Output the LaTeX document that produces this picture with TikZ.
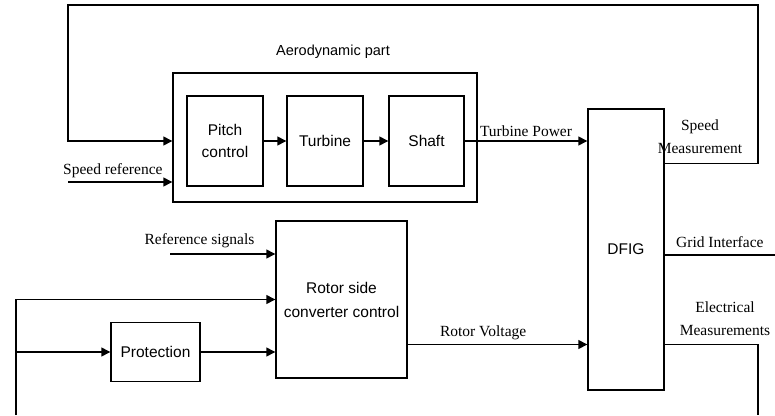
\documentclass[tikz,border=0pt]{standalone}
\usepackage{fontspec}
\setmainfont{Liberation Serif}
\setsansfont{Liberation Sans}
\usetikzlibrary{arrows.meta}

\begin{document}
\begin{tikzpicture}[x=1pt,y=-1pt,line width=1.4pt,
    >={Triangle[length=9pt,width=9pt]},
    blk/.style={draw,align=center,inner sep=0pt,font=\sffamily\fontsize{15.5}{22}\selectfont},
    lbl/.style={align=center,inner sep=1pt,font=\fontsize{15.5}{23}\selectfont}]
  \useasboundingbox (0,0) rectangle (775,415);
  % aerodynamic part
  \node[draw,minimum width=304pt,minimum height=129pt] (aero) at (325,137.5) {};
  \node[font=\sffamily\fontsize{14.5}{17}\selectfont] (aerolbl) at (333,52) {Aerodynamic part};
  \node[blk,minimum width=76pt,minimum height=90pt] (pitch) at (225,141) {Pitch\\control};
  \node[blk,minimum width=76pt,minimum height=90pt] (turb) at (325,141) {Turbine};
  \node[blk,minimum width=75pt,minimum height=90pt] (shaft) at (426.5,141) {Shaft};
  % machine and converter side
  \node[blk,minimum width=76pt,minimum height=281pt] (dfig) at (626,249.5) {DFIG};
  \node[blk,minimum width=131pt,minimum height=157pt,
        font=\sffamily\fontsize{15.5}{24}\selectfont] (rsc) at (341.5,299.5) {Rotor side\\converter control};
  \node[blk,minimum width=89pt,minimum height=59pt] (prot) at (155.5,352) {Protection};
  % free ends
  \coordinate (topL) at (68,5);
  \coordinate (topR) at (758,5);
  \coordinate (sref) at (68,182);
  \coordinate (rsig) at (170,254);
  \coordinate (botL) at (16,415);
  \coordinate (botR) at (758,415);
  \coordinate (gridR) at (775,255);
  \coordinate (spd) at ([yshift=-55pt]dfig.north east);
  \coordinate (rv) at ([yshift=-45pt]rsc.east);
  % chain inside the aerodynamic part
  \draw[->] (pitch) -- (turb);
  \draw[->] (turb) -- (shaft);
  \draw[->] (shaft.east) -- (shaft.east -| dfig.west) node[lbl,midway,above=3pt] {Turbine Power};
  % speed loop
  \draw[->] (spd) -| (topR) -- (topL) |- (pitch -| aero.west);
  \draw[->] (sref) -- (sref -| aero.west) node[lbl,pos=0.43,above=3pt] {Speed reference};
  \node[lbl] (spdlbl) at (700,137) {Speed\\Measurement};
  % converter inputs
  \draw[->] (rsig) -- (rsig -| rsc.west) node[lbl,pos=0.28,above=4pt] {Reference signals};
  \draw[->] (botL) |- (rsc.west);
  \draw[->] (botL |- prot) -- (prot.west);
  \draw[->] (prot.east) -- (prot.east -| rsc.west);
  \draw[->] (rv) -- (rv -| dfig.west) node[lbl,pos=0.42,above=3pt] {Rotor Voltage};
  % outputs
  \draw (gridR -| dfig.east) -- (gridR) node[lbl,midway,above=6pt] {Grid Interface};
  \draw (dfig.east |- rv) -| (botR);
  \node[lbl] (emlbl) at (725,319) {Electrical\\Measurements};
\end{tikzpicture}
\end{document}
